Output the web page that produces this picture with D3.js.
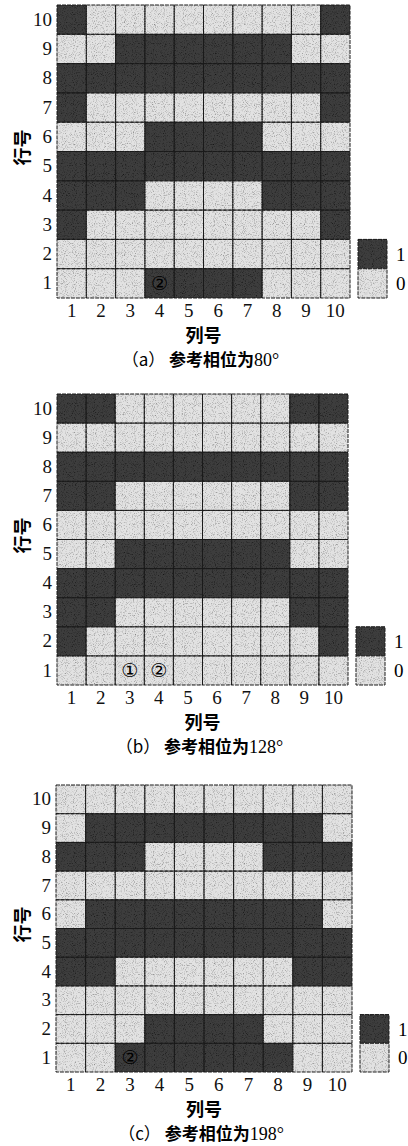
<!DOCTYPE html>
<html>
<head>
<meta charset="utf-8">
<script src="https://cdn.jsdelivr.net/npm/d3@7"></script>
<style>
  body { margin: 0; background: #fff; }
  svg { display: block; }
  .tick text { font-family: "Liberation Serif", "DejaVu Serif", serif; font-size: 19px; fill: #111; }
</style>
</head>
<body>
<svg id="chart" width="408" height="1146"></svg>
<script>
// column / row labels
const cols = [1, 2, 3, 4, 5, 6, 7, 8, 9, 10];
const rows = [10, 9, 8, 7, 6, 5, 4, 3, 2, 1]; // top to bottom

// cell states, rows listed from row 10 (top) down to row 1
const gridA = [
  [1, 0, 0, 0, 0, 0, 0, 0, 0, 1],
  [0, 0, 1, 1, 1, 1, 1, 1, 0, 0],
  [1, 1, 1, 1, 1, 1, 1, 1, 1, 1],
  [1, 0, 0, 0, 0, 0, 0, 0, 0, 1],
  [0, 0, 0, 1, 1, 1, 1, 0, 0, 0],
  [1, 1, 1, 1, 1, 1, 1, 1, 1, 1],
  [1, 1, 1, 0, 0, 0, 0, 1, 1, 1],
  [1, 0, 0, 0, 0, 0, 0, 0, 0, 1],
  [0, 0, 0, 0, 0, 0, 0, 0, 0, 0],
  [0, 0, 0, 1, 1, 1, 1, 0, 0, 0]
];
const gridB = [
  [1, 1, 0, 0, 0, 0, 0, 0, 1, 1],
  [0, 0, 0, 0, 0, 0, 0, 0, 0, 0],
  [1, 1, 1, 1, 1, 1, 1, 1, 1, 1],
  [1, 1, 0, 0, 0, 0, 0, 0, 1, 1],
  [0, 0, 0, 0, 0, 0, 0, 0, 0, 0],
  [0, 0, 1, 1, 1, 1, 1, 1, 0, 0],
  [1, 1, 1, 1, 1, 1, 1, 1, 1, 1],
  [1, 1, 0, 0, 0, 0, 0, 0, 1, 1],
  [1, 0, 0, 0, 0, 0, 0, 0, 0, 1],
  [0, 0, 0, 0, 0, 0, 0, 0, 0, 0]
];
const gridC = [
  [0, 0, 0, 0, 0, 0, 0, 0, 0, 0],
  [0, 1, 1, 1, 1, 1, 1, 1, 1, 0],
  [1, 1, 1, 0, 0, 0, 0, 1, 1, 1],
  [0, 0, 0, 0, 0, 0, 0, 0, 0, 0],
  [0, 1, 1, 1, 1, 1, 1, 1, 1, 0],
  [1, 1, 1, 1, 1, 1, 1, 1, 1, 1],
  [1, 1, 0, 0, 0, 0, 0, 0, 1, 1],
  [0, 0, 0, 0, 0, 0, 0, 0, 0, 0],
  [0, 0, 0, 1, 1, 1, 1, 0, 0, 0],
  [0, 0, 1, 1, 1, 1, 1, 1, 0, 0]
];

// circled element markers [col, row, symbol]
const markersA = [[4, 1, '②']];
const markersB = [[3, 1, '①'], [4, 1, '②']];
const markersC = [[3, 1, '②']];

const captionTags = ['（a）', '（b）', '（c）'];
const captionText = ['参考相位为', '参考相位为', '参考相位为'];
const captionAngle = ['80°', '128°', '198°'];
const legendValues = [1, 0];

const colorOf = { 1: '#3d3d3d', 0: '#e2e2e2' };

// panel boxes (layout only)
const panels = [
  { grid: gridA, marks: markersA, left: 57, right: 350, top: 5, bottom: 298 },
  { grid: gridB, marks: markersB, left: 57, right: 348, top: 394, bottom: 685 },
  { grid: gridC, marks: markersC, left: 56, right: 352, top: 785, bottom: 1072 }
];

const svg = d3.select('#chart');

// grainy texture like the printed figure
const defs = svg.append('defs');
function grain(id, flood, strength) {
  const f = defs.append('filter').attr('id', id)
    .attr('x', 0).attr('y', 0).attr('width', 1).attr('height', 1);
  f.append('feTurbulence').attr('type', 'fractalNoise')
    .attr('baseFrequency', 1.1).attr('numOctaves', 1).attr('seed', 3).attr('result', 'n');
  f.append('feColorMatrix').attr('in', 'n').attr('type', 'matrix')
    .attr('values', '0 0 0 0 0  0 0 0 0 0  0 0 0 0 0  ' + strength + ' 0 0 0 ' + (-strength * 0.5))
    .attr('result', 'a');
  f.append('feFlood').attr('flood-color', flood).attr('result', 'c');
  f.append('feComposite').attr('in', 'c').attr('in2', 'a').attr('operator', 'in').attr('result', 'dots');
  f.append('feComposite').attr('in', 'dots').attr('in2', 'SourceGraphic').attr('operator', 'atop').attr('result', 'd2');
  const m = f.append('feMerge');
  m.append('feMergeNode').attr('in', 'SourceGraphic');
  m.append('feMergeNode').attr('in', 'd2');
}
grain('grainLight', '#777', 2.6);
grain('grainDark', '#151515', 3.0);
const filterOf = { 1: 'url(#grainDark)', 0: 'url(#grainLight)' };

panels.forEach(function (p, pi) {
  const g = svg.append('g');

  const x = d3.scaleBand().domain(cols).range([p.left, p.right]);
  const y = d3.scaleBand().domain(rows).range([p.top, p.bottom]);

  const cells = [];
  p.grid.forEach(function (r, ri) {
    r.forEach(function (v, ci) {
      cells.push({ row: rows[ri], col: cols[ci], v: v });
    });
  });

  g.selectAll('rect.cell')
    .data(cells)
    .enter().append('rect')
    .attr('class', 'cell')
    .attr('x', function (d) { return x(d.col); })
    .attr('y', function (d) { return y(d.row); })
    .attr('width', x.bandwidth())
    .attr('height', y.bandwidth())
    .style('fill', function (d) { return colorOf[d.v]; })
    .attr('filter', function (d) { return filterOf[d.v]; });

  // grid lines
  g.selectAll('rect.line')
    .data(cells)
    .enter().append('rect')
    .attr('class', 'line')
    .attr('x', function (d) { return x(d.col); })
    .attr('y', function (d) { return y(d.row); })
    .attr('width', x.bandwidth())
    .attr('height', y.bandwidth())
    .style('fill', 'none')
    .style('stroke', '#1a1a1a')
    .style('stroke-width', 1)
    .style('stroke-dasharray', '4,1');

  // markers
  g.selectAll('text.mark')
    .data(p.marks)
    .enter().append('text')
    .attr('x', function (d) { return x(d[0]) + x.bandwidth() / 2; })
    .attr('y', function (d) { return y(d[1]) + y.bandwidth() / 2; })
    .attr('dy', '.35em')
    .style('text-anchor', 'middle')
    .style('font-family', '"DejaVu Sans", sans-serif')
    .style('font-size', '19px')
    .style('fill', '#000')
    .text(function (d) { return d[2]; });

  // axes
  const xAxis = d3.axisBottom(x).tickSize(0).tickPadding(6);
  const yAxis = d3.axisLeft(y).tickSize(0).tickPadding(5);
  g.append('g').attr('transform', 'translate(0,' + p.bottom + ')').call(xAxis)
    .call(function (s) { s.select('.domain').remove(); });
  g.append('g').attr('transform', 'translate(' + p.left + ',0)').call(yAxis)
    .call(function (s) { s.select('.domain').remove(); });

  // axis titles
  g.append('text')
    .attr('x', (p.left + p.right) / 2)
    .attr('y', p.bottom + 44)
    .style('text-anchor', 'middle')
    .style('font-family', '"Noto Sans CJK SC", sans-serif')
    .style('font-weight', 'bold')
    .style('font-size', '18px')
    .text('列号');
  g.append('text')
    .attr('transform', 'translate(' + 29 + ',' + ((p.top + p.bottom) / 2 - 4) + ') rotate(-90)')
    .style('text-anchor', 'middle')
    .style('font-family', '"Noto Sans CJK SC", sans-serif')
    .style('font-weight', 'bold')
    .style('font-size', '18px')
    .text('行号');

  // caption
  const cap = g.append('text')
    .attr('x', (p.left + p.right) / 2 - 3)
    .attr('y', p.bottom + 68)
    .style('text-anchor', 'middle')
    .style('font-size', '17px');
  cap.append('tspan').style('font-family', '"Noto Sans CJK SC", sans-serif').text(captionTags[pi] + ' ');
  cap.append('tspan').style('font-family', '"Noto Sans CJK SC", sans-serif').style('font-weight', 'bold').text(captionText[pi]);
  cap.append('tspan').style('font-family', '"Liberation Serif", serif').style('font-size', '18px').text(captionAngle[pi]);

  // legend
  const lx = p.right + 8;
  const lh = y.bandwidth();
  const legend = g.selectAll('.legend')
    .data(legendValues)
    .enter().append('g')
    .attr('class', 'legend')
    .attr('transform', function (d, i) {
      return 'translate(' + lx + ',' + (p.bottom - lh * 2 + i * lh) + ')';
    });
  legend.append('rect')
    .attr('width', 29)
    .attr('height', lh)
    .style('fill', function (d) { return colorOf[d]; })
    .attr('filter', function (d) { return filterOf[d]; });
  legend.append('rect')
    .attr('width', 29)
    .attr('height', lh)
    .style('fill', 'none')
    .style('stroke', '#1a1a1a')
    .style('stroke-width', 1)
    .style('stroke-dasharray', '4,1');
  legend.append('text')
    .attr('x', 38)
    .attr('y', lh / 2)
    .attr('dy', '.35em')
    .style('font-family', '"Liberation Serif", serif')
    .style('font-size', '19px')
    .text(function (d) { return d; });
});
</script>
</body>
</html>
